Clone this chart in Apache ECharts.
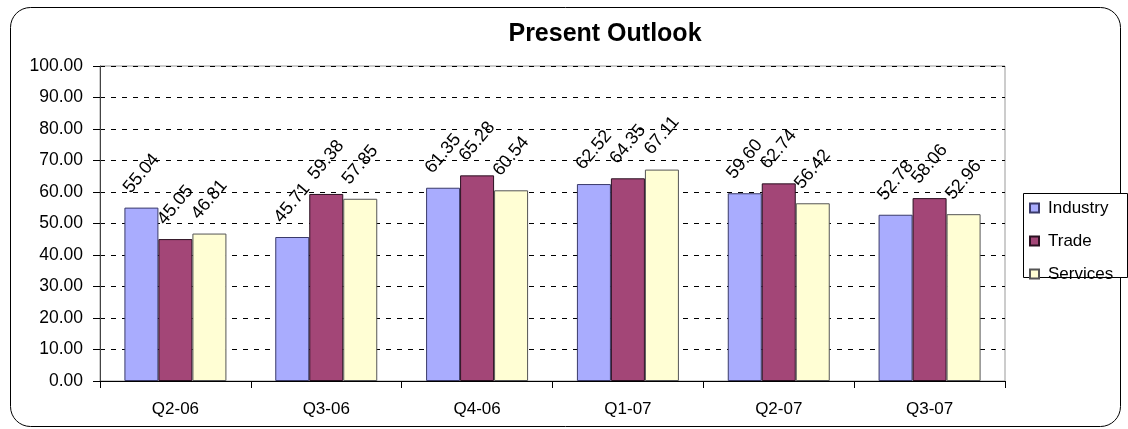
<!DOCTYPE html>
<html>
<head>
<meta charset="utf-8">
<script src="https://cdn.jsdelivr.net/npm/echarts@6/dist/echarts.min.js"></script>
<style>
  html, body { margin: 0; padding: 0; background: #fff; }
  #chart { width: 1128px; height: 429px; }
</style>
</head>
<body>
<div id="chart"></div>
<script>
// Quarterly outlook index by sector
const categories = ['Q2-06', 'Q3-06', 'Q4-06', 'Q1-07', 'Q2-07', 'Q3-07'];
const industry = [55.04, 45.71, 61.35, 62.52, 59.60, 52.78];
const trade    = [45.05, 59.38, 65.28, 64.35, 62.74, 58.06];
const services = [46.81, 57.85, 60.54, 67.11, 56.42, 52.96];
const yTicks = { min: 0, max: 100, interval: 10 };

const FONT = '"Liberation Sans", Arial, sans-serif';

function barSeries(name, data, fill, border) {
  return {
    name: name,
    type: 'bar',
    data: data,
    barWidth: 34,
    barGap: '0%',
    itemStyle: { color: fill, borderColor: border, borderWidth: 1 },
    label: {
      show: true,
      position: 'top',
      distance: 34,
      rotate: 50,
      align: 'center',
      verticalAlign: 'middle',
      formatter: p => p.value.toFixed(2),
      fontFamily: FONT,
      fontSize: 18,
      color: '#000'
    }
  };
}

const chart = echarts.init(document.getElementById('chart'), null, { renderer: 'canvas' });
chart.setOption({
  animation: false,
  backgroundColor: '#fff',
  title: {
    text: 'Present Outlook',
    left: 600,
    top: 17,
    textAlign: 'center',
    textStyle: { fontFamily: FONT, fontWeight: 'bold', fontSize: 25, color: '#000' }
  },
  graphic: [{
    type: 'rect',
    shape: { x: 10.5, y: 7.5, width: 1110, height: 419, r: 20 },
    style: { fill: 'none', stroke: '#000', lineWidth: 1 },
    z: -1
  }, {
    // legend frame
    type: 'rect',
    shape: { x: 1023.5, y: 193.5, width: 104, height: 84 },
    style: { fill: '#fff', stroke: '#000', lineWidth: 1 },
    z: 5
  }],
  legend: {
    orient: 'vertical',
    left: 1023,
    top: 193,
    padding: [6, 12, 6, 6],
    itemGap: 15,
    itemWidth: 9,
    itemHeight: 9,
    icon: 'rect',
    z: 10,
    textStyle: { fontFamily: FONT, fontSize: 17, color: '#000', lineHeight: 18, padding: [0, 0, 0, 4] },
    data: ['Industry', 'Trade', 'Services']
  },
  grid: {
    left: 100,
    top: 66,
    width: 905,
    height: 315,
    show: true,
    borderColor: '#999',
    borderWidth: 1,
    containLabel: false
  },
  xAxis: {
    type: 'category',
    data: categories,
    axisLine: { lineStyle: { color: '#000', width: 1 } },
    axisTick: { show: true, length: 7, lineStyle: { color: '#000' } },
    axisLabel: { margin: 20, fontFamily: FONT, fontSize: 17, color: '#000' },
    splitLine: { show: false }
  },
  yAxis: {
    type: 'value',
    min: yTicks.min,
    max: yTicks.max,
    interval: yTicks.interval,
    axisLine: { show: true, lineStyle: { color: '#444', width: 1 } },
    axisTick: { show: true, length: 7, lineStyle: { color: '#000' } },
    axisLabel: { margin: 17, fontFamily: FONT, fontSize: 17.5, color: '#000', formatter: v => v.toFixed(2) },
    splitLine: { show: true, lineStyle: { color: '#000', type: [5, 6], width: 1 } }
  },
  series: [
    barSeries('Industry', industry, '#A9ACFE', '#3a3a6a'),
    barSeries('Trade', trade, '#A34677', '#2a1020'),
    barSeries('Services', services, '#FFFED4', '#555')
  ]
});
</script>
</body>
</html>
